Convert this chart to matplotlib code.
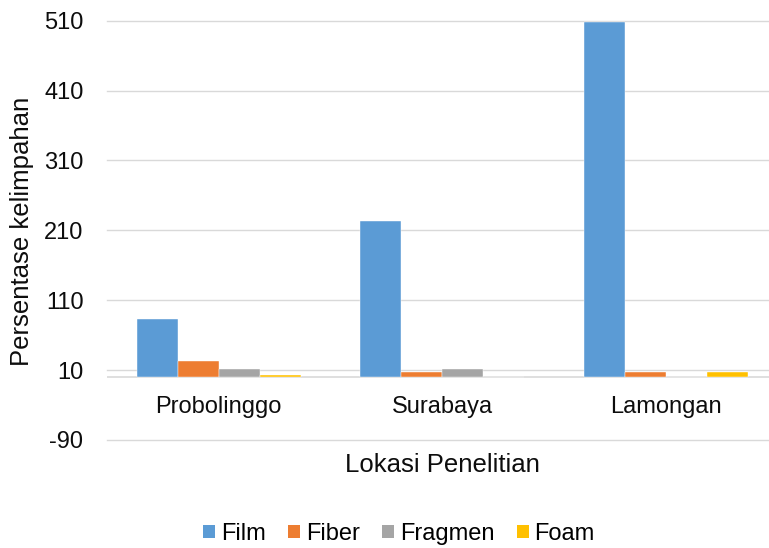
import matplotlib
matplotlib.use("Agg")
import matplotlib.pyplot as plt
import numpy as np
from matplotlib.transforms import offset_copy
from matplotlib.patches import Patch

plt.rcParams['font.family'] = ['Liberation Sans', 'DejaVu Sans']

categories = ["Probolinggo", "Surabaya", "Lamongan"]
series_names = ["Film", "Fiber", "Fragmen", "Foam"]
film = [83, 224, 508]
fiber = [23, 8, 8]
fragmen = [12, 12, 0]
foam = [3.5, 0, 8]
y_ticks = [-90, 10, 110, 210, 310, 410, 510]

colors = ["#5B9BD5", "#ED7D31", "#A5A5A5", "#FFC000"]
grid_color = "#D9D9D9"
text_color = "#0D0D0D"

W, H = 769, 548
fig = plt.figure(figsize=(W / 100, H / 100), dpi=100)
ax = fig.add_axes([107 / W, 108 / H, 670.5 / W, 419.3 / H])

x = np.arange(len(categories))
bw = 0.1834
for i, (vals, col) in enumerate(zip([film, fiber, fragmen, foam], colors)):
    ax.bar(x + (i - 1.5) * bw, vals, width=bw, color=col,
           edgecolor="white", linewidth=0.3, zorder=3)

ax.set_xlim(-0.5, len(categories) - 0.5)
ax.set_ylim(y_ticks[0], y_ticks[-1])
ax.set_yticks(y_ticks)
ax.set_yticklabels([str(t) for t in y_ticks], fontsize=17, color=text_color)
ax.tick_params(axis='y', length=0, pad=17)
ax.set_xticks([])
for t in y_ticks:
    ax.axhline(t, color=grid_color, linewidth=1.0, zorder=0, clip_on=False)
ax.axhline(0, color=grid_color, linewidth=1.2, zorder=2)
for s in ax.spines.values():
    s.set_visible(False)

# category labels hang below the zero line
lab_tr = offset_copy(ax.transData, fig=fig, x=0, y=-29.5, units='dots')
for xi, name in zip(x, categories):
    ax.text(xi, 0, name, transform=lab_tr, ha='center', va='center',
            fontsize=17, color=text_color, clip_on=False)

fig.text(22 / W, 0.577, "Persentase kelimpahan", rotation=90, ha='center',
         va='center', fontsize=18.5, color=text_color)
fig.text(442 / W, 83 / H, "Lokasi Penelitian", ha='center', va='center',
         fontsize=18.5, color=text_color)

handles = [Patch(facecolor=c, edgecolor='none') for c in colors]
fig.legend(handles, series_names, loc='center', bbox_to_anchor=(399 / W, 14 / H),
           ncol=4, frameon=False, fontsize=17, handlelength=0.5,
           handleheight=0.5, handletextpad=0.25, columnspacing=0.95)

fig.savefig("out.png", dpi=100)
